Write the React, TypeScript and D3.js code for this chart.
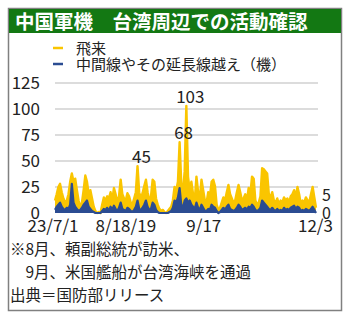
import React from 'react';
import * as d3 from 'd3';

// daily counts, 2023/7/1 .. 2023/12/3
const startDate = new Date(2023, 6, 1);
const endDate = new Date(2023, 11, 3);

const arrivals = [
  12, 18, 25, 28, 20, 14, 10, 12, 18, 30, 38, 30, 33, 22, 12, 6, 10, 22, 36, 30,
  18, 22, 14, 6, 2, 0, 1, 0, 8, 15, 12, 16, 14, 20, 12, 24, 18, 10, 16, 32,
  18, 14, 12, 19, 16, 10, 8, 14, 20, 45, 20, 14, 19, 26, 32, 20, 12, 16, 32, 30,
  14, 8, 4, 2, 3, 1, 0, 2, 4, 6, 12, 25, 22, 30, 68, 28, 20, 40, 103, 35,
  22, 30, 18, 12, 35, 20, 14, 32, 22, 12, 10, 20, 16, 30, 32, 26, 8, 3, 5, 10,
  15, 12, 20, 27, 18, 14, 10, 12, 20, 27, 20, 12, 14, 18, 12, 24, 18, 35, 33, 12,
  8, 10, 16, 43, 42, 40, 38, 18, 15, 20, 12, 10, 14, 8, 12, 10, 15, 12, 14, 10,
  16, 18, 22, 15, 25, 18, 8, 12, 10, 15, 12, 10, 18, 25, 15, 5,
];

const crossed = [
  3, 6, 8, 10, 6, 4, 3, 5, 4, 8, 28, 10, 6, 4, 2, 3, 5, 8, 10, 12,
  6, 4, 2, 1, 0, 0, 0, 0, 2, 4, 3, 5, 2, 6, 3, 7, 4, 2, 5, 10,
  4, 3, 2, 5, 4, 2, 1, 3, 6, 12, 4, 3, 5, 8, 12, 6, 3, 4, 10, 8,
  3, 1, 0, 0, 0, 0, 0, 0, 1, 2, 5, 12, 10, 15, 24, 8, 5, 12, 14, 10,
  12, 8, 6, 4, 10, 5, 3, 8, 5, 2, 2, 4, 3, 8, 6, 5, 2, 0, 1, 3,
  5, 3, 6, 8, 4, 3, 2, 3, 5, 8, 6, 3, 4, 5, 3, 6, 5, 8, 6, 3,
  2, 3, 5, 12, 10, 8, 6, 4, 3, 5, 3, 2, 4, 2, 3, 2, 5, 3, 4, 3,
  5, 6, 7, 4, 6, 5, 2, 3, 2, 4, 3, 2, 4, 6, 3, 0,
];

const yTicks = [0, 25, 50, 75, 100, 125];
const xTickLabels = ['23/7/1', '8/18/19', '9/17', '12/3'];
const xTickDates = [new Date(2023, 6, 1), new Date(2023, 7, 18), new Date(2023, 8, 17), new Date(2023, 11, 3)];
const peakLabels = [
  { date: new Date(2023, 7, 19), value: 45 },
  { date: new Date(2023, 8, 13), value: 68 },
  { date: new Date(2023, 8, 17), value: 103 },
];

const title = '中国軍機　台湾周辺での活動確認';
const legendLabels = ['飛来', '中間線やその延長線越え（機）'];
const notes = ['※8月、頼副総統が訪米、', '　9月、米国艦船が台湾海峡を通過', '出典＝国防部リリース'];

const YELLOW = '#fac500';
const BLUE = '#2b4c92';
const GREEN = '#137813';
const FONT = '"Noto Sans CJK JP", "Noto Sans", sans-serif';

export default function App() {
  const width = 350;
  const height = 319;

  const x = d3.scaleTime().domain([startDate, endDate]).range([55, 316]);
  const y = d3.scaleLinear().domain([0, 125]).range([213, 83]);

  const dateAt = (i: number) => d3.timeDay.offset(startDate, i);

  const area = d3.area<number>()
    .x((_, i) => x(dateAt(i)))
    .y0(y(0))
    .y1(d => y(d));

  const line = d3.line<number>()
    .x((_, i) => x(dateAt(i)))
    .y(d => y(d));

  const tickDx = [-2, -10, 0, -18];
  const tickAnchor = ['middle', 'middle', 'start', 'start'];

  const lastIdx = arrivals.length - 1;

  return (
    <svg width={width} height={height} style={{ position: 'absolute', left: 0, top: 0 }}>
      <rect x={0} y={0} width={width} height={height} fill="#fff" />
      <rect x={8.5} y={8.5} width={333} height={302} fill="#fff" stroke="#808080" strokeWidth={1.5} />
      <rect x={9} y={9} width={332} height={24} fill={GREEN} />
      <text x={15} y={28.5} fill="#fff" fontFamily={FONT} fontWeight={700} fontSize={19.5}>{title}</text>

      {/* legend */}
      {[YELLOW, BLUE].map((c, i) => (
        <g key={i}>
          <line x1={53} x2={63} y1={48 + i * 16} y2={48 + i * 16} stroke={c} strokeWidth={2.5} />
          <text x={76} y={54 + i * 16} fontFamily={FONT} fontSize={15} fill="#222">{legendLabels[i]}</text>
        </g>
      ))}

      {/* grid + y axis */}
      {yTicks.map(t => (
        <g key={t}>
          {t > 0 && <line x1={55} x2={318} y1={y(t)} y2={y(t)} stroke="#d0d0d0" strokeWidth={1.5} />}
          <text x={40} y={y(t) + 6} textAnchor="end" fontFamily={FONT} fontSize={17} fill="#222">{t}</text>
        </g>
      ))}

      {/* series */}
      <path d={area(arrivals) || ''} fill={YELLOW} />
      <path d={line(arrivals) || ''} fill="none" stroke={YELLOW} strokeWidth={2.4} strokeLinejoin="round" />
      <path d={area(crossed) || ''} fill={BLUE} />
      <path d={line(crossed) || ''} fill="none" stroke={BLUE} strokeWidth={2.2} strokeLinejoin="round" />

      {/* peak annotations */}
      {peakLabels.map(p => (
        <text key={p.value} x={x(p.date) + 4} y={y(p.value) - 3} textAnchor="middle" fontFamily={FONT} fontSize={17} fill="#222">
          {p.value}
        </text>
      ))}

      {/* end labels */}
      <text x={322} y={y(arrivals[lastIdx]) - 7} fontFamily={FONT} fontSize={16} fill="#222">{arrivals[lastIdx]}</text>
      <text x={322} y={y(crossed[lastIdx]) + 6} fontFamily={FONT} fontSize={16} fill="#222">{crossed[lastIdx]}</text>

      {/* x tick labels */}
      {xTickDates.map((d, i) => (
        <text key={i} x={x(d) + tickDx[i]} y={232} textAnchor={tickAnchor[i]} fontFamily={FONT} fontSize={17} fill="#222">
          {xTickLabels[i]}
        </text>
      ))}

      {/* notes */}
      {notes.map((n, i) => (
        <text key={i} x={10} y={255 + i * 23} fontFamily={FONT} fontSize={15.5} fill="#222">{n}</text>
      ))}
    </svg>
  );
}
